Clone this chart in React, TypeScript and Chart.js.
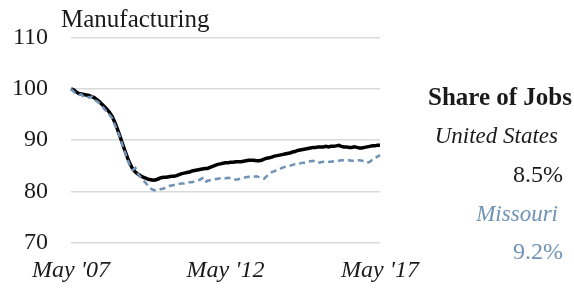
import React, { useEffect, useRef } from "react";
import { Chart, registerables } from "chart.js";

Chart.register(...registerables);

const MONTH_NAMES = ["Jan", "Feb", "Mar", "Apr", "May", "Jun", "Jul", "Aug", "Sep", "Oct", "Nov", "Dec"];
const START_YEAR = 2007;
const START_MONTH = 4; // May
const N_MONTHS = 121;
const months: string[] = [];
for (let i = 0; i < N_MONTHS; i++) {
  const m = (START_MONTH + i) % 12;
  const y = START_YEAR + Math.floor((START_MONTH + i) / 12);
  months.push(`${MONTH_NAMES[m]} '${String(y % 100).padStart(2, "0")}`);
}
const shownTickIdx = [0, 60, 120];

const usValues = [
  100, 99.8, 99.4, 99.1, 99.0, 98.9, 98.8, 98.7, 98.5, 98.3,
  97.9, 97.5, 97.0, 96.5, 96.0, 95.4, 94.6, 93.5, 92.2, 90.8,
  89.3, 87.9, 86.5, 85.3, 84.4, 83.8, 83.4, 83.1, 82.8, 82.6,
  82.4, 82.3, 82.2, 82.3, 82.5, 82.7, 82.8, 82.8, 82.9, 83.0,
  83.0, 83.1, 83.3, 83.5, 83.6, 83.7, 83.8, 84.0, 84.1, 84.2,
  84.3, 84.4, 84.5, 84.5, 84.7, 84.9, 85.1, 85.3, 85.4, 85.5,
  85.6, 85.6, 85.7, 85.7, 85.8, 85.8, 85.8, 85.9, 86.0, 86.1,
  86.1, 86.1, 86.0, 86.0, 86.1, 86.3, 86.5, 86.6, 86.7, 86.9,
  87.0, 87.1, 87.2, 87.3, 87.4, 87.5, 87.7, 87.8, 88.0, 88.1,
  88.2, 88.3, 88.4, 88.5, 88.6, 88.6, 88.7, 88.7, 88.7, 88.8,
  88.7, 88.8, 88.8, 88.9, 89.0, 88.8, 88.7, 88.7, 88.6, 88.6,
  88.7, 88.6, 88.5, 88.5, 88.6, 88.7, 88.8, 88.9, 88.9, 89.0,
  89.0,
];

const moValues = [
  100, 99.5, 99.0, 98.8, 98.9, 98.4, 98.6, 98.3, 98.5, 97.8,
  97.6, 97.2, 96.8, 96.0, 95.6, 94.9, 94.3, 93.0, 91.9, 90.6,
  89.0, 87.6, 86.2, 84.8, 84.2, 84.6, 83.5, 82.8, 82.2, 81.7,
  81.1, 80.6, 80.3, 80.2, 80.3, 80.5, 80.6, 80.9, 81.1, 81.2,
  81.3, 81.4, 81.5, 81.6, 81.6, 81.7, 81.8, 81.8, 82.0, 82.1,
  82.3, 82.6, 81.8, 82.1, 82.2, 82.3, 82.4, 82.5, 82.6, 82.7,
  82.6, 82.7, 82.6, 82.5, 82.3, 82.4, 82.6, 82.7, 82.8, 82.9,
  82.8, 82.9, 83.0, 82.8, 82.6, 82.5, 83.0, 83.5, 83.8, 84.0,
  84.2, 84.4, 84.6, 84.8, 84.9, 85.0, 85.2, 85.3, 85.3, 85.5,
  85.6, 85.6, 85.8, 85.9, 86.0, 85.7, 85.6, 85.7, 85.8, 85.9,
  85.8, 85.8, 85.9, 86.0, 86.0, 86.1, 86.1, 86.2, 86.1, 86.0,
  86.0, 86.1, 86.1, 86.0, 85.9, 85.6, 85.8, 86.2, 86.5, 86.8,
  87.1,
];

const yMin = 70;
const yMax = 110;
const yStep = 10;

const titleText = "Manufacturing";
const legendTitle = "Share of Jobs";
const seriesNames = ["United States", "Missouri"];
const shareValues = ["8.5%", "9.2%"];

const FONT = "'Liberation Serif', 'DejaVu Serif', serif";
const US_COLOR = "#000000";
const MO_COLOR = "#6f92b6";

export default function App() {
  const ref = useRef<HTMLCanvasElement | null>(null);

  useEffect(() => {
    if (!ref.current) return;
    const chart = new Chart(ref.current, {
      type: "line",
      data: {
        labels: months,
        datasets: [
          {
            label: seriesNames[1],
            data: moValues,
            borderColor: MO_COLOR,
            borderWidth: 2.5,
            borderDash: [6, 4],
            pointRadius: 0,
            tension: 0,
            fill: false,
          },
          {
            label: seriesNames[0],
            data: usValues,
            borderColor: US_COLOR,
            borderWidth: 3.5,
            pointRadius: 0,
            tension: 0,
            fill: false,
          },
        ],
      },
      options: {
        responsive: false,
        animation: false,
        layout: { padding: { top: 35, right: 194, left: 0, bottom: 0 } },
        plugins: { legend: { display: false }, tooltip: { enabled: false }, title: { display: false } },
        scales: {
          x: {
            type: "category",
            offset: false,
            grid: { display: false, drawTicks: false },
            border: { display: false },
            ticks: {
              autoSkip: false,
              maxRotation: 0,
              padding: 13,
              color: "#1a1a1a",
              font: { family: FONT, size: 24, style: "italic" },
              callback: function (this: any, value: any, index: number) {
                return shownTickIdx.includes(index) ? months[index] : null;
              },
            },
            afterFit: (scale: any) => {
              scale.height = 48;
            },
          },
          y: {
            min: yMin,
            max: yMax,
            grid: { color: "#d9d9d9", lineWidth: 1.5, drawTicks: false },
            border: { display: false },
            ticks: {
              stepSize: yStep,
              padding: 23,
              color: "#1a1a1a",
              font: { family: FONT, size: 24 },
            },
            afterFit: (scale: any) => {
              scale.width = 71;
            },
          },
        },
      },
    });
    return () => chart.destroy();
  }, []);

  const textBase: React.CSSProperties = {
    position: "absolute",
    fontFamily: FONT,
    fontSize: 24,
    lineHeight: "24px",
    whiteSpace: "nowrap",
    color: "#1a1a1a",
  };

  return (
    <div style={{ position: "fixed", left: 0, top: 0, width: 574, height: 291, background: "#fff" }}>
      <canvas ref={ref} width={574} height={291} style={{ position: "absolute", left: 0, top: 0 }} />
      <div style={{ ...textBase, left: 61, top: 6, fontSize: 25, lineHeight: "25px" }}>{titleText}</div>
      <div style={{ ...textBase, right: 2, top: 84, fontWeight: "bold", fontSize: 25, lineHeight: "25px" }}>{legendTitle}</div>
      <div style={{ ...textBase, right: 16, top: 124, fontStyle: "italic", fontSize: 23, lineHeight: "23px" }}>{seriesNames[0]}</div>
      <div style={{ ...textBase, right: 11, top: 162 }}>{shareValues[0]}</div>
      <div style={{ ...textBase, right: 16, top: 202, fontStyle: "italic", color: MO_COLOR, fontSize: 23, lineHeight: "23px" }}>{seriesNames[1]}</div>
      <div style={{ ...textBase, right: 11, top: 239, color: MO_COLOR }}>{shareValues[1]}</div>
    </div>
  );
}
